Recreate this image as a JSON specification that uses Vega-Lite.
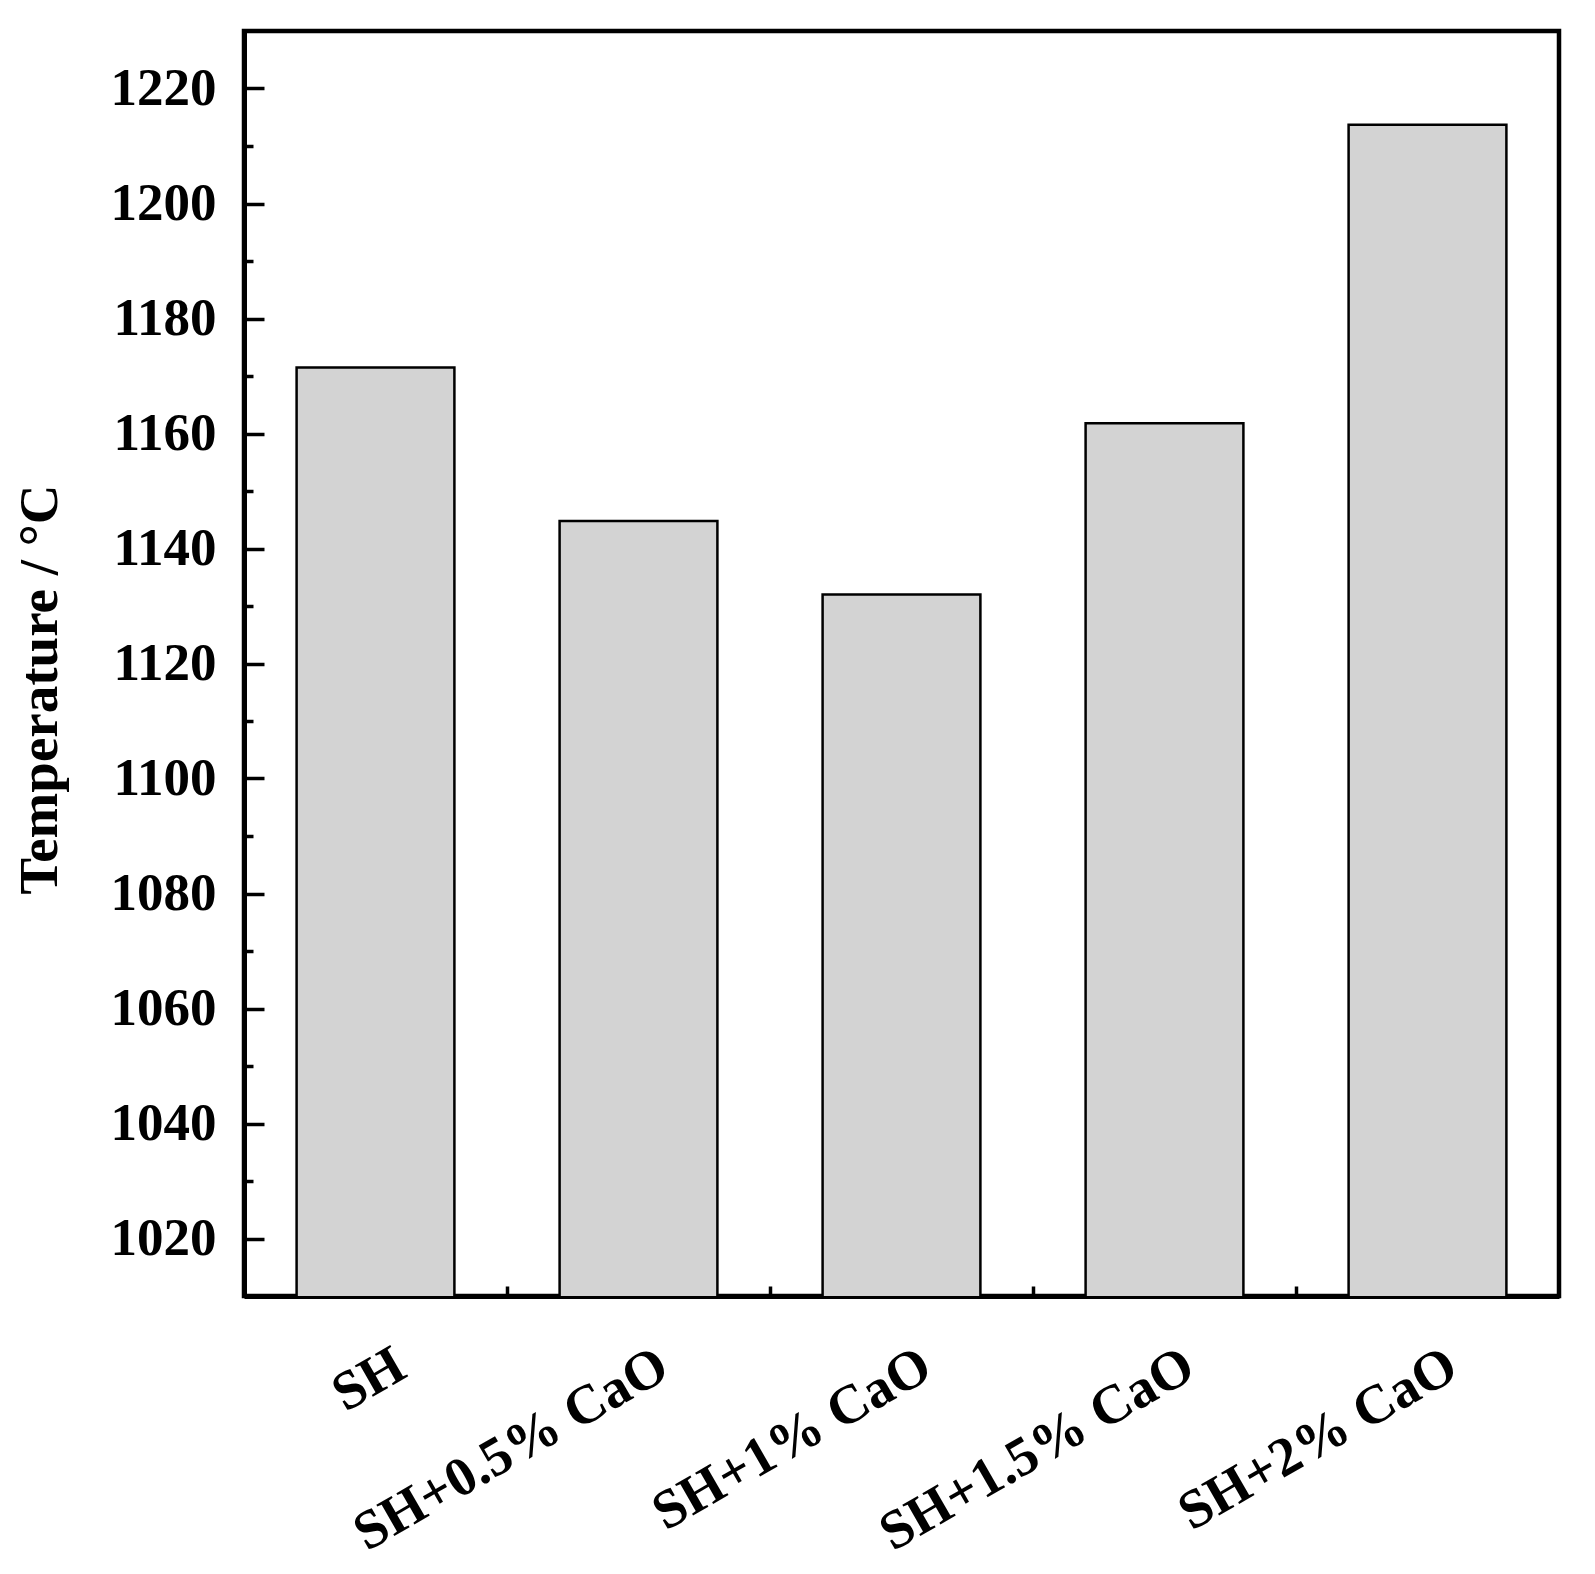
{
  "$schema": "https://vega.github.io/schema/vega-lite/v6.json",
  "width": 1315,
  "height": 1265,
  "autosize": "none",
  "padding": {"left": 244, "top": 31, "right": 36, "bottom": 278},
  "background": "white",
  "config": {
    "view": {"stroke": "black", "strokeWidth": 4.5},
    "axis": {"labelFont": "Liberation Serif", "titleFont": "Liberation Serif", "labelFontWeight": "bold", "titleFontWeight": "bold", "labelColor": "black", "titleColor": "black", "domainColor": "black", "tickColor": "black", "grid": false, "labelLimit": 0}
  },
  "data": {
    "values": [
      {"sample": "SH", "temp": 1171.5},
      {"sample": "SH+0.5% CaO", "temp": 1144.8},
      {"sample": "SH+1% CaO", "temp": 1132},
      {"sample": "SH+1.5% CaO", "temp": 1161.8},
      {"sample": "SH+2% CaO", "temp": 1213.7}
    ]
  },
  "mark": {"type": "bar", "fill": "#d3d3d3", "stroke": "black", "strokeWidth": 2.5, "clip": true},
  "encoding": {
    "x": {
      "field": "sample",
      "type": "nominal",
      "sort": null,
      "scale": {"paddingInner": 0.4, "paddingOuter": 0.2},
      "axis": {
        "title": null,
        "bandPosition": -0.3333,
        "tickSize": -10,
        "tickWidth": 3.5,
        "domainWidth": 5,
        "labelAngle": -30,
        "labelAlign": "right",
        "labelBaseline": "top",
        "labelFontSize": 55,
        "labelPadding": 52,
        "labelOffset": 12,
        "labelOverlap": false
      }
    },
    "y": {
      "field": "temp",
      "type": "quantitative",
      "scale": {"domain": [1010, 1230], "zero": false, "nice": false},
      "axis": {
        "values": [1020, 1030, 1040, 1050, 1060, 1070, 1080, 1090, 1100, 1110, 1120, 1130, 1140, 1150, 1160, 1170, 1180, 1190, 1200, 1210, 1220],
        "format": "d",
        "labelExpr": "datum.value % 20 === 0 ? datum.label : ''",
        "labelOverlap": false,
        "tickSize": {"condition": {"test": "datum.value % 20 === 0", "value": -20}, "value": -9},
        "tickWidth": 3.5,
        "domainWidth": 5,
        "labelFontSize": 53,
        "labelPadding": 48,
        "title": "Temperature / °C",
        "titleFontSize": 55,
        "titlePadding": 42,
        "titleY": 658
      }
    }
  }
}
